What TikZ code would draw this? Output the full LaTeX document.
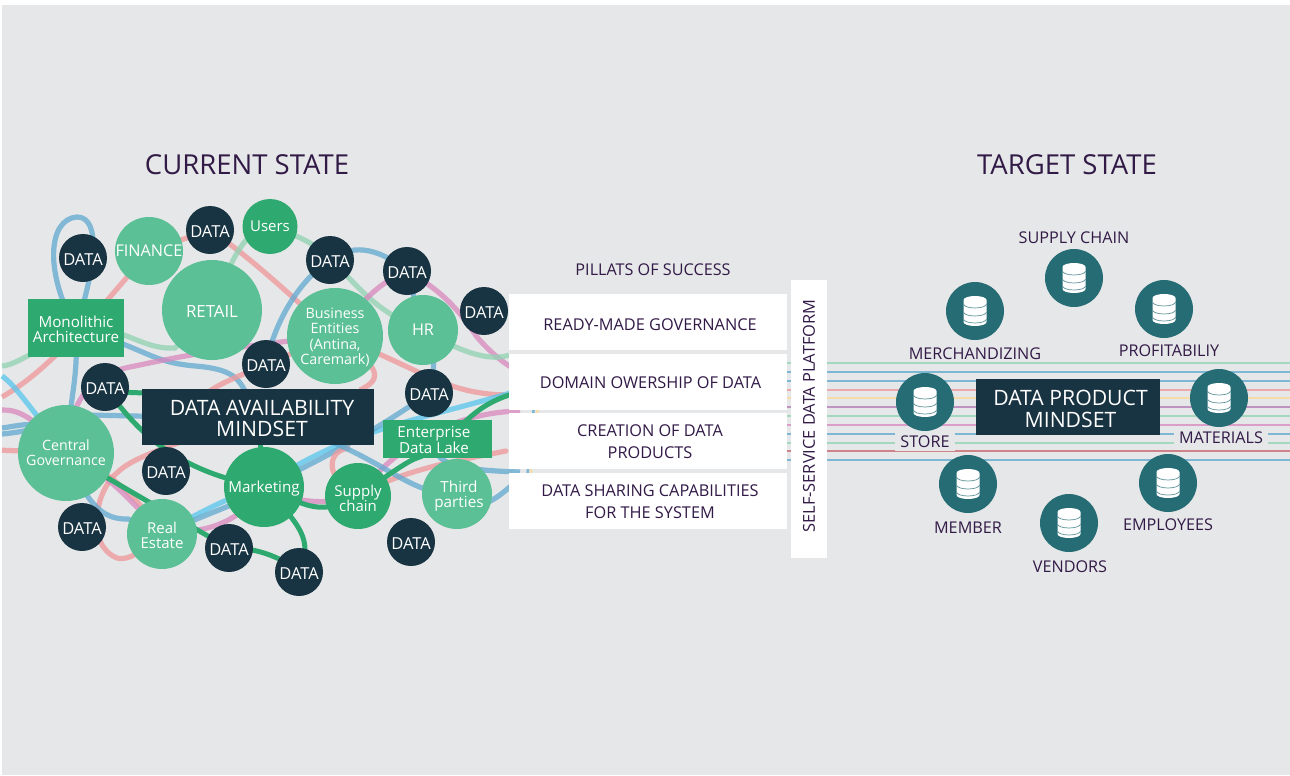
\documentclass[tikz,border=0pt]{standalone}
\usepackage{fontspec}
\setmainfont{Open Sans}
\pgfdeclarelayer{bg}
\pgfdeclarelayer{curves}
\pgfsetlayers{bg,curves,main}
\definecolor{panel}{HTML}{E6E7E8}
\definecolor{navy}{HTML}{183342}
\definecolor{lgreen}{HTML}{5CC096}
\definecolor{dgreen}{HTML}{2EA96F}
\definecolor{teal}{HTML}{266C74}
\definecolor{ink}{HTML}{321A47}
\definecolor{cpink}{HTML}{EE9A9C}
\definecolor{cblue}{HTML}{64ABD0}
\definecolor{cmint}{HTML}{93D3B4}
\definecolor{cmag}{HTML}{D88CC0}
\definecolor{ccyan}{HTML}{5CC8EC}
\definecolor{cyel}{HTML}{FBD89A}
\definecolor{cpur}{HTML}{B57FB5}
\definecolor{cred}{HTML}{C96A72}
\tikzset{
 x=1pt,y=-1pt,
 datac/.style={circle,fill=navy,text=white,minimum size=48pt,inner sep=0pt,execute at begin node={\rule{0pt}{.85em}},font=\fontsize{16.5}{17}\selectfont},
 lgc/.style={circle,fill=lgreen,inner sep=0pt},
 dgc/.style={circle,fill=dgreen,inner sep=0pt},
 gbox/.style={rectangle,fill=dgreen,inner sep=0pt},
 nbox/.style={rectangle,fill=navy,inner sep=0pt},
 wbox/.style={rectangle,fill=white,inner sep=0pt,minimum width=278pt,minimum height=56pt},
 ltx/.style={text=white,align=center,inner sep=0pt},
 ntx/.style={ltx,font=\fontsize{21.2}{21.5}\selectfont},
 wtx/.style={text=ink,align=center,inner sep=0pt,xshift=2pt,font=\fontsize{16.3}{22}\selectfont},
 title/.style={text=ink,font=\fontsize{27.5}{28}\selectfont,inner sep=0pt},
 lab/.style={text=ink,font=\fontsize{16.2}{16}\selectfont,inner sep=1pt},
 dbc/.style={circle,fill=teal,minimum size=58pt,inner sep=0pt},
 cv/.style={line width=5.2pt,opacity=.78},
 cvp/.style={cv,draw=cpink},cvb/.style={cv,draw=cblue},cvm/.style={cv,draw=cmint},
 cvg/.style={cv,draw=cmag},cvc/.style={cv,draw=ccyan},cvd/.style={line width=5pt,draw=dgreen},
 hl/.style={line width=2.6pt,opacity=.8},
}
\newcommand{\dbicon}[1]{%
 \begin{scope}[shift={(#1)}]
  \fill[white] (-11.5,-11) arc[x radius=11.5,y radius=4,start angle=180,end angle=360] -- (11.5,11) arc[x radius=11.5,y radius=4,start angle=0,end angle=180] -- cycle;
  \foreach \yy in {-7,1,8}{\draw[teal!75,line width=.7pt] (-11.5,\yy) arc[x radius=11.5,y radius=4,start angle=180,end angle=0];}
 \end{scope}}
\begin{document}
\begin{tikzpicture}
\useasboundingbox (0,0) rectangle (1290,776);
\begin{pgfonlayer}{bg}
\fill[white] (0,0) rectangle (1290,776);
\fill[panel] (2,5) rectangle (1290,775);
\end{pgfonlayer}
% titles
\node[title] (t1) at (247,165) {CURRENT STATE};
\node[title] (t2) at (1067,165) {TARGET STATE};
\node[lab] (pil) at (653,270) {PILLATS OF SUCCESS};
% free ends
\coordinate (L1) at (2,366);
\coordinate (L2) at (2,397);
\coordinate (L3) at (2,376);
\coordinate (L4) at (2,410);
\coordinate (L5) at (2,428);
\coordinate (L6) at (2,434);
\coordinate (L7) at (2,450);
\coordinate (R1) at (509,355);
\coordinate (R2) at (520,372);
\coordinate (R3) at (520,395);
\coordinate (R4) at (520,390);
\coordinate (R5) at (520,392);
\coordinate (R6) at (520,411);
\coordinate (R7) at (506,451);
\coordinate (R8) at (520,472);
\coordinate (R9) at (520,478);
% nodes
\node[lgc,minimum size=68pt,label={[ltx,font=\fontsize{16.2}{15}\selectfont]center:FINANCE}] (fin) at (149,251) {};
\node[lgc,minimum size=100pt,label={[ltx,yshift=-1pt,font=\fontsize{16.8}{15}\selectfont]center:RETAIL}] (ret) at (212,310) {};
\node[dgc,minimum size=55pt,label={[ltx,font=\fontsize{15}{15}\selectfont]center:Users}] (usr) at (270,226.5) {};
\node[lgc,minimum size=96pt,label={[ltx,yshift=-1.5pt,font=\fontsize{14.3}{15.4}\selectfont]center:{Business\\Entities\\(Antina,\\Caremark)}}] (bus) at (335,336) {};
\node[lgc,minimum size=70pt,label={[ltx,font=\fontsize{16.2}{15}\selectfont]center:HR}] (hr) at (423,330) {};
\node[lgc,minimum size=96pt,label={[ltx,font=\fontsize{14.2}{15}\selectfont]center:{Central\\Governance}}] (cen) at (66,453) {};
\node[lgc,minimum size=70pt,label={[ltx,yshift=-1pt,font=\fontsize{15}{15}\selectfont]center:{Real\\Estate}}] (rea) at (162,534) {};
\node[lgc,minimum size=70pt,label={[ltx,xshift=2pt,yshift=-2pt,font=\fontsize{15.3}{15}\selectfont]center:{Third\\parties}}] (thi) at (457,494) {};
\node[dgc,minimum size=80pt,label={[ltx,yshift=-2pt,font=\fontsize{15.2}{15}\selectfont]center:Marketing}] (mar) at (264,487) {};
\node[dgc,minimum size=66pt,label={[ltx,yshift=-2.5pt,font=\fontsize{15}{15}\selectfont]center:{Supply\\chain}}] (sup) at (358,496) {};
\node[gbox,minimum width=96pt,minimum height=58pt,label={[ltx,yshift=-1pt,font=\fontsize{15.2}{15}\selectfont]center:{Monolithic\\Architecture}}] (mon) at (76,328) {};
\node[gbox,minimum width=109pt,minimum height=38pt,label={[ltx,xshift=-3.5pt,yshift=-1pt,font=\fontsize{15.2}{15}\selectfont]center:{Enterprise\\Data Lake}}] (ent) at (437.5,439) {};
\node[nbox,minimum width=232pt,minimum height=56pt,label={[ntx,xshift=4pt,yshift=-1.5pt]center:{DATA AVAILABILITY\\MINDSET}}] (dam) at (258,417) {};
\node[datac] (d1) at (83,258) {DATA};
\node[datac] (d2) at (210,230) {DATA};
\node[datac] (d3) at (330,260) {DATA};
\node[datac] (d4) at (407,271) {DATA};
\node[datac] (d5) at (484,311) {DATA};
\node[datac] (d6) at (266,364) {DATA};
\node[datac] (d7) at (429,393) {DATA};
\node[datac] (d8) at (105,387) {DATA};
\node[datac] (d9) at (166,471) {DATA};
\node[datac] (d10) at (82,527) {DATA};
\node[datac] (d11) at (229,548) {DATA};
\node[datac] (d12) at (299,572) {DATA};
\node[datac] (d13) at (411,542) {DATA};
% pillars
\node[wbox,label={[wtx,yshift=-3pt]center:READY-MADE GOVERNANCE}] (p1) at (648,322) {};
\node[wbox,label={[wtx,xshift=.5pt,yshift=-1pt]center:DOMAIN OWERSHIP OF DATA}] (p2) at (648,382) {};
\node[wbox,label={[wtx,yshift=-1pt]center:{CREATION OF DATA\\PRODUCTS}}] (p3) at (648,441) {};
\node[wbox,label={[wtx,yshift=-1pt]center:{DATA SHARING CAPABILITIES\\FOR THE SYSTEM}}] (p4) at (648,501) {};
\node[rectangle,fill=white,text=ink,inner sep=0pt,rotate=90,font=\fontsize{16.4}{16}\selectfont,minimum width=278pt,minimum height=36pt] (ssp) at (809,419) {\hspace*{6pt}SELF-SERVICE DATA PLATFORM};
% target
\coordinate (RE) at (1290,400);
\coordinate (LS) at (780,400);
\coordinate (T1) at (527,480);
\coordinate (T2) at (534,405);
\coordinate (T3) at (530,480);
\coordinate (T4) at (538,405);
\node[nbox,minimum width=184pt,minimum height=56pt,label={[ntx,xshift=2.5pt,yshift=-2pt]center:{DATA PRODUCT\\MINDSET}}] (dpm) at (1068,407) {};
\node[dbc] (c1) at (1074,278) {}; \dbicon{1074,278}
\node[dbc] (c2) at (975,311) {}; \dbicon{975,311}
\node[dbc] (c3) at (1164,309) {}; \dbicon{1164,309}
\node[dbc] (c4) at (925,402) {}; \dbicon{925,402}
\node[dbc] (c5) at (1219,398) {}; \dbicon{1219,398}
\node[dbc] (c6) at (968,484) {}; \dbicon{968,484}
\node[dbc] (c7) at (1168,483) {}; \dbicon{1168,483}
\node[dbc] (c8) at (1069,523) {}; \dbicon{1069,523}
\node[lab] (l1) at (1074,238) {SUPPLY CHAIN};
\node[lab] (l2) at (975,354) {MERCHANDIZING};
\node[lab] (l3) at (1169,351) {PROFITABILIY};
\node[lab,fill=panel,minimum width=60pt,minimum height=18pt] (l4) at (925,442) {STORE};
\node[lab,fill=panel,minimum width=94pt,minimum height=18pt] (l5) at (1221,438) {MATERIALS};
\node[lab] (l6) at (968,528) {MEMBER};
\node[lab] (l7) at (1168,525) {EMPLOYEES};
\node[lab] (l8) at (1070,567) {VENDORS};
% connectors
\begin{pgfonlayer}{curves}
% target-state strands
\foreach \yy/\cc in {363/cmint,372/cblue,381/cblue,390/cpink,398/cyel,407/cpur,416/cmint,425/cmag,434/cblue,443/cmint,451/cred,460/cblue}{
  \draw[hl,draw=\cc] (LS |- 0,\yy) -- (RE |- 0,\yy);
}
\draw[hl,draw=cblue] (T1) -- (T2);
\draw[hl,draw=cyel] (T3) -- (T4);
% current-state tangles
\draw[cvm] (L1) .. controls (12,365) and (22,360) .. (mon.center);
\draw[cvp] (L2) .. controls (40,375) and (75,340) .. (fin.center);
\draw[cvc] (L3) .. controls (15,385) and (28,405) .. (cen.center);
\draw[cvg] (L4) .. controls (15,410) and (30,412) .. (cen.center);
\draw[cvb] (L5) .. controls (25,425) and (50,415) .. (cen.center);
\draw[cvb] (L6) .. controls (25,432) and (55,425) .. (70,418) .. controls (85,412) and (120,418) .. (dam.center);
\draw[cvp] (L7) .. controls (8,451) and (14,450) .. (cen.center);
\draw[cvb] (mon.center) .. controls (45,275) and (47,219) .. (77,217) .. controls (102,217) and (95,270) .. (mon.center);
\draw[cvb] (mon.center) .. controls (78,375) and (72,390) .. (70,418);
\draw[cvm] (mon.center) .. controls (125,325) and (140,350) .. (175,348) -- (ret.center);
\draw[cvb] (mon.center) .. controls (150,350) and (150,362) .. (195,366) .. controls (245,370) and (240,385) .. (dam.center);
\draw[cvg] (cen.center) .. controls (70,390) and (100,372) .. (135,366) .. controls (200,352) and (250,345) .. (bus.center);
\draw[cvp] (d2.center) -- (fin.center);
\draw[cvp] (d2.center) .. controls (240,250) and (275,280) .. (bus.center);
\draw[cvm] (usr.center) .. controls (245,232) and (235,250) .. (ret.center);
\draw[cvm] (usr.center) .. controls (300,235) and (325,250) .. (d3.center) .. controls (355,280) and (370,310) .. (hr.center);
\draw[cvb] (d3.center) .. controls (350,245) and (375,245) .. (d4.center);
\draw[cvb] (d3.center) .. controls (300,280) and (275,320) .. (d6.center);
\draw[cvg] (d4.center) .. controls (385,280) and (365,295) .. (bus.center);
\draw[cvg] (d4.center) .. controls (450,295) and (465,320) .. (477,337) .. controls (490,352) and (505,365) .. (R2);
\draw[cvb] (d4.center) -- (hr.center);
\draw[cvb] (hr.center) .. controls (437,350) and (435,375) .. (d7.center);
\draw[cvm] (hr.center) .. controls (460,352) and (490,362) .. (R1);
\draw[cvp] (bus.center) .. controls (400,360) and (430,382) .. (470,391) .. controls (490,395) and (500,395) .. (R3);
\draw[cvp] (bus.center) .. controls (386,370) and (380,380) .. (360,390);
\draw[cvp] (d6.center) .. controls (240,376) and (215,385) .. (205,395);
\draw[cvp] (d6.center) -- (bus.center);
\draw[cvc] (rea.center) .. controls (220,500) and (245,492) .. (mar.center) .. controls (340,430) and (430,418) .. (R4);
\draw[cvb] (rea.center) .. controls (220,508) and (250,500) .. (mar.center) .. controls (310,465) and (370,435) .. (d7.center);
\draw[cvg] (rea.center) .. controls (180,530) and (230,538) .. (mar.center) .. controls (310,510) and (340,500) .. (sup.center) .. controls (400,440) and (460,412) .. (R6);
\draw[cvp] (dam.center) .. controls (150,450) and (128,462) .. (118,472) .. controls (95,490) and (85,545) .. (117,558) .. controls (125,560) and (135,558) .. (rea.center);
\draw[cvp] (cen.center) .. controls (110,470) and (140,500) .. (rea.center);
\draw[cvg] (cen.center) .. controls (110,475) and (130,500) .. (rea.center);
\draw[cvb] (cen.center) .. controls (85,500) and (100,520) .. (128,519) -- (rea.center);
\draw[cvp] (sup.center) .. controls (325,480) and (325,450) .. (350,448);
\draw[cvp,line cap=round] (sup.center) .. controls (400,470) and (460,460) .. (R7);
\draw[cvb] (dam.center) .. controls (385,450) and (400,495) .. (thi.center) .. controls (480,515) and (495,500) .. (R9);
\draw[cvb] (ent.center) .. controls (430,462) and (450,470) .. (R8);
\draw[cvd] (cen.center) .. controls (110,480) and (180,520) .. (d11.center) .. controls (250,547) and (280,555) .. (d12.center);
\draw[cvd] (d8.center) .. controls (120,400) and (140,380) .. (dam.center);
\draw[cvd] (d8.center) .. controls (130,420) and (165,470) .. (mar.center);
\draw[cvd] (mar.center) .. controls (300,525) and (314,540) .. (d12.center);
\draw[cvd] (mar.center) .. controls (300,500) and (315,520) .. (sup.center);
\draw[cvd] (sup.center) .. controls (395,470) and (410,460) .. (417,458) .. controls (440,450) and (450,432) .. (467,420) .. controls (480,408) and (495,398) .. (R5);
\draw[cvd] (dam.center) -- (mar.center);
\end{pgfonlayer}
\end{tikzpicture}
\end{document}
